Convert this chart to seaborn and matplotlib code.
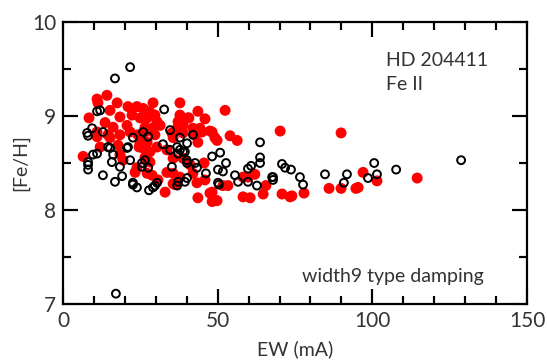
import numpy as np
import pandas as pd
import matplotlib
matplotlib.use("Agg")
import matplotlib.pyplot as plt
import seaborn as sns
from matplotlib.ticker import MultipleLocator

# Black open circles (EW, [Fe/H])
black_ew = [17.1, 16.8, 21.7, 32.7, 128.7, 100.6, 107.7, 101.5, 98.6, 91.8, 84.7, 76.6,
            70.8, 71.8, 73.7, 67.6, 77.6, 90.8, 63.7, 50.8, 52.7, 51.7, 63.7, 63.7, 60.8,
            59.8, 55.6, 56.6, 59.8, 62.7, 67.9, 67.9, 50.4, 16.8, 22.6, 23.9, 27.8, 29.7,
            36.9, 39.4, 7.8, 8.1, 9.4, 11.0, 12.0, 8.1, 8.1, 9.7, 11.0, 12.9, 15.2, 21.0,
            39.4, 32.3, 36.9, 40.0, 42.7, 35.2, 8.1, 14.5, 15.8, 16.2, 18.4, 19.1, 20.7,
            21.7, 22.6, 25.5, 27.5, 22.6, 12.9, 34.6, 37.8, 42.0, 40.1, 37.8, 37.2, 25.9,
            27.5, 34.6, 38.8, 26.5, 25.5, 40.1, 43.3, 40.1, 37.2, 29.1, 30.4, 50.1, 50.1,
            48.2, 46.2]
black_feh = [7.11, 9.40, 9.52, 9.07, 8.53, 8.50, 8.43, 8.38, 8.34, 8.38, 8.38, 8.35,
             8.49, 8.45, 8.43, 8.35, 8.27, 8.29, 8.72, 8.61, 8.50, 8.41, 8.56, 8.50, 8.47,
             8.44, 8.37, 8.30, 8.30, 8.26, 8.35, 8.32, 8.27, 8.30, 8.27, 8.24, 8.21, 8.26,
             8.26, 8.30, 8.82, 8.79, 8.87, 9.05, 9.06, 8.48, 8.43, 8.59, 8.60, 8.37, 8.66, 8.67,
             8.62, 8.70, 8.67, 8.53, 8.50, 8.46, 8.51, 8.67, 8.51, 8.59, 8.46, 8.36, 8.66,
             8.53, 8.29, 8.50, 8.45, 8.77, 8.83, 8.85, 8.77, 8.80, 8.71, 8.64, 8.60, 8.83,
             8.78, 8.64, 8.62, 8.53, 8.46, 8.50, 8.45, 8.34, 8.30, 8.24, 8.29, 8.43, 8.29,
             8.57, 8.39]

# Red filled circles (EW, [Fe/H])
red_ew = [114.5, 89.9, 97.0, 101.5, 95.4, 94.7, 86.0, 89.9, 77.9, 74.0, 52.4, 70.2,
          48.2, 49.1, 54.0, 56.3, 58.2, 59.8, 62.0, 51.7, 53.3, 65.6, 48.2, 49.5, 58.2,
          60.5, 64.7, 70.8, 73.4, 43.6, 47.5, 48.2, 49.8, 33.0, 36.2, 43.3, 6.5, 11.0,
          14.2, 8.4, 29.1, 37.8, 43.6, 40.7, 45.9, 47.5, 45.6, 11.0, 12.0, 11.3, 17.5,
          21.0, 23.9, 26.5, 15.2, 18.4, 22.3, 24.9, 11.0, 13.6, 16.2, 20.7, 21.7, 26.5,
          14.5, 18.4, 24.2, 15.2, 17.8, 18.4, 19.4, 23.9, 23.3, 24.9, 26.5, 27.2, 25.9,
          28.1, 29.7, 27.2, 30.4, 28.8, 31.4, 26.5, 29.7, 40.4, 37.8, 37.2, 38.8, 36.9,
          42.0, 44.3, 44.9, 35.2, 35.6, 38.8, 42.7, 43.6, 49.8, 25.5, 24.6, 27.2, 25.9,
          28.1, 30.4, 33.6, 35.6, 38.8, 41.1, 42.0, 28.1, 28.8, 30.7, 33.6, 35.6, 37.8,
          35.6, 45.9]
red_feh = [8.34, 8.82, 8.40, 8.31, 8.24, 8.23, 8.23, 8.23, 8.18, 8.15, 9.06, 8.84,
           8.83, 8.77, 8.79, 8.74, 8.35, 8.35, 8.38, 8.26, 8.26, 8.26, 8.19, 8.10, 8.14,
           8.13, 8.17, 8.17, 8.14, 8.13, 8.18, 8.09, 8.10, 8.19, 8.27, 8.29, 8.57, 9.18,
           9.22, 8.98, 9.14, 9.14, 9.05, 8.98, 8.97, 8.84, 8.50, 8.78, 8.67, 9.14, 9.14,
           9.10, 9.10, 9.06, 9.06, 8.99, 9.01, 8.98, 8.83, 8.93, 8.88, 8.90, 8.83, 8.88,
           8.80, 8.80, 8.80, 8.77, 8.69, 8.59, 8.53, 8.45, 8.40, 8.71, 8.56, 8.39, 9.08,
           9.04, 9.01, 8.98, 8.94, 8.87, 8.90, 8.83, 8.80, 8.98, 9.01, 8.94, 8.90, 8.87,
           8.87, 8.87, 8.83, 8.82, 8.77, 8.82, 8.80, 8.72, 8.74, 8.77, 8.67, 8.72, 8.66,
           8.62, 8.67, 8.64, 8.55, 8.55, 8.48, 8.39, 8.51, 8.37, 8.32, 8.40, 8.39, 8.35,
           8.28, 8.32]

title_lines = ["HD 204411", "Fe II"]
note = "width9 type damping"

sns.set_style("ticks")
plt.rcParams['font.family'] = ['Lato', 'DejaVu Sans']

fig = plt.figure(figsize=(5.47, 3.62), dpi=100)
ax = fig.add_axes([0.1152, 0.1602, 0.8482, 0.7790])

dfr = pd.DataFrame({"ew": red_ew, "feh": red_feh})
dfb = pd.DataFrame({"ew": black_ew, "feh": black_feh})

sns.scatterplot(data=dfr, x="ew", y="feh", ax=ax, color="#ff0000", s=62,
                edgecolor="none", linewidth=0, zorder=2)
sns.scatterplot(data=dfb, x="ew", y="feh", ax=ax, marker="o", s=32,
                fc="none", ec="black", linewidth=1.4, zorder=3)

ax.set_xlim(0, 150)
ax.set_ylim(7, 10)
ax.xaxis.set_major_locator(MultipleLocator(50))
ax.xaxis.set_minor_locator(MultipleLocator(10))
ax.yaxis.set_major_locator(MultipleLocator(1))
ax.yaxis.set_minor_locator(MultipleLocator(0.5))
ax.tick_params(which="both", direction="in", top=True, right=True, bottom=True,
               left=True, colors="black", labelcolor="#333333", labelsize=15)
ax.tick_params(which="major", length=11, width=1.5, pad=5)
ax.tick_params(which="minor", length=5.5, width=1.5)
for sp in ax.spines.values():
    sp.set_linewidth(1.6)
    sp.set_color("black")

ax.set_xlabel("EW (mA)", fontsize=14, color="#333333", labelpad=7)
ax.set_ylabel("[Fe/H]", fontsize=14, color="#333333", labelpad=2)

ax.text(104.4, 9.53, title_lines[0], fontsize=14, color="#333333", va="baseline")
ax.text(104.4, 9.28, title_lines[1], fontsize=14, color="#333333", va="baseline")
ax.text(77.3, 7.23, note, fontsize=14, color="#333333", va="baseline")

# Fallback tick marks drawn as plain line segments at the locator positions
fig.canvas.draw()
bb = ax.get_window_extent()
maj_px, min_px = 11 * fig.dpi / 72, 5.5 * fig.dpi / 72
xlo, xhi = ax.get_xlim()
ylo, yhi = ax.get_ylim()
for locs, L in ((ax.xaxis.get_majorticklocs(), maj_px), (ax.xaxis.get_minorticklocs(), min_px)):
    f = L / bb.height
    for t in locs:
        if xlo < t < xhi:
            ax.plot([t, t], [0, f], transform=ax.get_xaxis_transform(), color="black",
                    lw=1.5, solid_capstyle="butt", clip_on=False, zorder=4)
            ax.plot([t, t], [1 - f, 1], transform=ax.get_xaxis_transform(), color="black",
                    lw=1.5, solid_capstyle="butt", clip_on=False, zorder=4)
for locs, L in ((ax.yaxis.get_majorticklocs(), maj_px), (ax.yaxis.get_minorticklocs(), min_px)):
    f = L / bb.width
    for t in locs:
        if ylo < t < yhi:
            ax.plot([0, f], [t, t], transform=ax.get_yaxis_transform(), color="black",
                    lw=1.5, solid_capstyle="butt", clip_on=False, zorder=4)
            ax.plot([1 - f, 1], [t, t], transform=ax.get_yaxis_transform(), color="black",
                    lw=1.5, solid_capstyle="butt", clip_on=False, zorder=4)
ax.set_xlim(xlo, xhi)
ax.set_ylim(ylo, yhi)

fig.savefig("out.png", dpi=100)
